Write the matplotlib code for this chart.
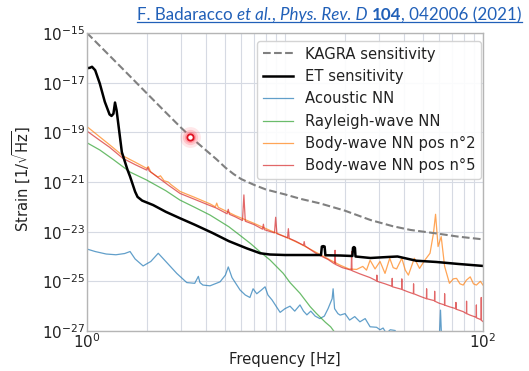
import numpy as np
import matplotlib.pyplot as plt
from matplotlib.lines import Line2D
from matplotlib.ticker import NullFormatter, NullLocator

plt.rcParams['font.family'] = 'DejaVu Sans'
plt.rcParams['mathtext.fontset'] = 'dejavusans'

# frequency [Hz] and log10 of strain [1/sqrt(Hz)]
kagra_f = [1, 1.5, 2, 2.5, 3, 3.5, 4, 4.5, 5, 5.5, 6, 7, 8, 10, 12, 15, 20, 27, 35, 43, 58, 75, 100]
kagra_logh = [-15.0, -16.41, -17.42, -18.2, -18.83, -19.33, -19.73, -20.08, -20.42, -20.68, -20.88,
              -21.12, -21.3, -21.5, -21.68, -21.86, -22.15, -22.53, -22.78, -22.93, -23.07, -23.2, -23.31]

et_f = [1.0, 1.035, 1.06, 1.1, 1.16, 1.23, 1.3, 1.33, 1.36, 1.385, 1.41, 1.5, 1.6, 1.65, 1.75, 1.8,
        1.9, 2.16, 2.5, 2.95, 3.5, 4.3, 5.2, 6.4, 7.5, 8.4, 10, 12, 15.2, 15.35, 15.6, 15.85, 16.0,
        19, 21.9, 22.05, 22.3, 22.55, 22.7, 27, 33, 37, 46, 58, 75, 100]
et_logh = [-16.42, -16.40, -16.36, -16.5, -17.03, -17.77, -18.28, -18.34, -18.25, -17.8, -18.1,
           -19.8, -20.5, -20.78, -21.39, -21.6, -21.75, -21.93, -22.2, -22.46, -22.72, -23.05,
           -23.38, -23.67, -23.87, -23.92, -23.94, -23.94, -23.94, -23.6, -23.58, -23.6, -23.95,
           -23.96, -23.98, -23.65, -23.62, -23.65, -24.0, -24.06, -24.02, -24.0, -24.17, -24.22,
           -24.3, -24.38]

acoustic_f = [1.0, 1.1, 1.25, 1.4, 1.55, 1.65, 1.75, 1.92, 2.1, 2.29, 2.5, 2.84, 3.19, 3.5, 3.65,
              3.72, 3.85, 4.18, 4.7, 5.0, 5.17, 5.4, 5.93, 6.3, 6.65, 6.9, 7.2, 7.6, 7.93, 8.2,
              8.6, 9.45, 10.0, 10.6, 11.2, 11.9, 12.4, 12.9, 13.5, 14.2, 15.0, 15.8, 16.5, 17.3,
              17.5, 17.8, 18.5, 19.0, 20.1, 21.2, 22.5, 23.9, 25.4, 26.9, 29.0, 30.2, 31.3, 32.5,
              34.0, 36.0, 37.0, 40.0, 60.0, 61.0, 62.0, 100.0]
acoustic_logh = [-23.7, -23.8, -23.9, -23.93, -23.88, -23.8, -24.1, -24.38, -24.2, -23.87, -24.2,
                 -24.68, -25.05, -25.08, -24.8, -25.05, -25.15, -25.18, -25.02, -24.75, -24.42,
                 -24.85, -25.35, -25.55, -25.65, -25.3, -25.5, -25.35, -25.22, -25.55, -25.75,
                 -26.25, -26.1, -26.0, -26.2, -25.95, -26.2, -26.35, -26.2, -26.4, -26.5, -26.4,
                 -26.1, -25.7, -25.3, -26.1, -26.3, -26.36, -26.3, -26.56, -26.42, -26.63, -26.5,
                 -26.83, -26.85, -26.95, -26.88, -27.1, -26.95, -26.98, -27.4, -27.6, -27.6,
                 -26.16, -27.6, -27.8]

rayleigh_f = [1.0, 1.16, 1.36, 1.65, 2.0, 2.5, 2.95, 3.5, 4.18, 5.2, 5.93, 6.7, 7.5, 8.4, 9.8,
              10.6, 11.9, 13.4, 14.4, 16.0, 17.0, 18.0]
rayleigh_logh = [-19.42, -19.71, -20.1, -20.6, -20.92, -21.35, -21.73, -22.02, -22.33, -22.8,
                 -23.15, -23.48, -23.82, -24.14, -24.68, -25.05, -25.48, -26.02, -26.29, -26.65,
                 -26.83, -27.1]

body2_f = [1.0, 1.3, 1.52, 1.75, 2.0, 2.04, 2.1, 2.28, 2.35, 2.45, 2.57, 2.65, 2.95, 3.5, 4.18,
           4.45, 4.52, 4.6, 5.6, 7.0, 8.4, 10, 12, 14.5, 17, 19, 21, 23, 24.7, 25.8, 26.9, 28.5,
           30.2, 32, 33.8, 35.2, 36.6, 38.9, 40.5, 42, 45, 47.8, 50.9, 54, 56.2, 57.6, 59.3, 61.5,
           64, 67.7, 70.8, 73.5, 76.5, 79.4, 82.5, 86.2, 89.5, 92.6, 97, 100]
body2_logh = [-18.77, -19.5, -19.95, -20.2, -20.45, -20.38, -20.6, -20.8, -20.75, -20.95, -21.0,
              -21.1, -21.38, -21.62, -21.88, -22.0, -21.85, -22.02, -22.35, -22.67, -22.95,
              -23.2, -23.5, -23.85, -24.15, -24.35, -24.5, -24.52, -24.4, -24.55, -24.15, -24.5,
              -24.2, -24.68, -24.07, -24.45, -24.5, -24.07, -24.55, -24.75, -24.07, -24.48,
              -24.14, -23.87, -23.07, -22.3, -23.6, -23.2, -24.4, -25.08, -24.9, -24.88, -25.1,
              -25.15, -24.95, -24.82, -25.1, -25.15, -25.0, -25.15]

body5_f = [1.0, 1.15, 1.3, 1.52, 1.75, 2.0, 2.03, 2.06, 2.34, 2.6, 2.95, 3.5, 4.18, 4.5, 5.1,
           5.17, 5.24, 5.6, 6.1, 6.2, 6.3, 7.0, 7.7, 7.78, 7.86, 8.85, 8.97, 9.1, 10.3, 10.4,
           10.5, 11.3, 12.4, 12.5, 12.6, 14.5, 16.5, 17.8, 17.9, 18.0, 19.5, 21.6, 21.7, 21.8,
           23.9, 26.9, 29.0, 29.1, 29.2, 32, 34.7, 34.8, 34.9, 38.8, 38.9, 39.0, 42, 44.5, 44.6,
           44.7, 48, 51.8, 51.9, 52.0, 56.9, 57.0, 57.1, 60, 63.9, 64.0, 64.1, 68, 72.9, 73.0,
           73.1, 79.4, 82.5, 82.6, 82.7, 86, 92.5, 92.6, 92.7, 96, 97.9, 98.0, 98.1, 100]
body5_logh = [-18.95, -19.3, -19.6, -20.05, -20.3, -20.52, -20.42, -20.55, -20.88, -21.15,
              -21.46, -21.7, -21.95, -22.05, -22.28, -22.1, -22.3, -22.4, -22.55, -21.52,
              -22.58, -22.72, -22.9, -22.7, -22.92, -23.05, -22.42, -23.08, -23.25, -22.88,
              -23.27, -23.38, -23.55, -23.4, -23.57, -23.9, -24.12, -24.3, -23.75, -24.32,
              -24.45, -24.55, -23.8, -24.57, -24.7, -24.85, -24.98, -24.75, -25.0, -25.1, -25.2,
              -24.88, -25.22, -25.32, -24.9, -25.33, -25.43, -25.5, -25.1, -25.5, -25.6, -25.7,
              -25.3, -25.7, -25.78, -25.4, -25.8, -25.88, -25.95, -25.5, -25.96, -26.03, -26.1,
              -25.85, -26.12, -26.22, -26.3, -25.8, -26.3, -26.36, -26.45, -25.95, -26.47,
              -26.52, -26.55, -25.65, -26.57, -26.62]

ytick_exp = [-27, -25, -23, -21, -19, -17, -15]

fig = plt.figure(figsize=(5.29, 3.71), dpi=100)
ax = fig.add_axes([87 / 529, 40 / 371, 396 / 529, 298 / 371])

nl = dict(lw=0.9, alpha=0.7)
l_ac, = ax.loglog(acoustic_f, 10.0 ** np.array(acoustic_logh), color='tab:blue', label='Acoustic NN', **nl)
l_ra, = ax.loglog(rayleigh_f, 10.0 ** np.array(rayleigh_logh), color='tab:green', label='Rayleigh-wave NN', **nl)
l_b2, = ax.loglog(body2_f, 10.0 ** np.array(body2_logh), color='tab:orange', label='Body-wave NN pos n°2', **nl)
l_b5, = ax.loglog(body5_f, 10.0 ** np.array(body5_logh), color='tab:red', label='Body-wave NN pos n°5', **nl)
l_et, = ax.loglog(et_f, 10.0 ** np.array(et_logh), color='black', lw=1.8, label='ET sensitivity')
l_kg, = ax.loglog(kagra_f, 10.0 ** np.array(kagra_logh), color='gray', lw=1.5, ls='--', label='KAGRA sensitivity')

ax.set_xlim(1, 100)
ax.set_ylim(1e-27, 1e-15)
ax.set_xticks([1, 100])
ax.set_xticks([2, 3, 4, 5, 6, 7, 8, 9, 10, 20, 30, 40, 50, 60, 70, 80, 90], minor=True)
ax.xaxis.set_minor_formatter(NullFormatter())
ax.set_yticks([10.0 ** e for e in ytick_exp])
ax.yaxis.set_minor_locator(NullLocator())
ax.grid(which='both', color='#d6dae3', lw=0.8)
ax.set_axisbelow(True)
ax.tick_params(which='both', length=0, labelsize=11, colors='#222222')
ax.tick_params(axis='x', pad=1)
ax.tick_params(axis='y', pad=1.5)
for s in ax.spines.values():
    s.set_color('#b5b5b5')
    s.set_linewidth(1.0)

ax.set_xlabel('Frequency [Hz]', fontsize=10.6, color='#222222')
ax.xaxis.set_label_coords(0.5, -0.072)
ax.set_ylabel(r'Strain [$1/\sqrt{\mathrm{Hz}}$]', fontsize=10.6, color='#222222')
ax.yaxis.set_label_coords(-0.136, 0.51)

leg = ax.legend(handles=[l_kg, l_et, l_ac, l_ra, l_b2, l_b5], loc='upper right',
                bbox_to_anchor=(0.995, 0.974), borderaxespad=0, fontsize=10.6,
                edgecolor='#d0d0d0', framealpha=0.9)
for t in leg.get_texts():
    t.set_color('#222222')

# citation line at the top of the slide
segs = [('F. Badaracco ', 'normal', 'normal'), ('et al.', 'italic', 'normal'),
        (', ', 'normal', 'normal'), ('Phys. Rev. D ', 'italic', 'normal'),
        ('104', 'normal', 'bold'), (', 042006 (2021)', 'normal', 'normal')]
cite_col = '#2160b8'
cite_left, cite_right = 136.0, 521.7
r = fig.canvas.get_renderer()


def seg_width(s, st, wt, size):
    # width with bars on both sides, so that edge spaces count
    a = fig.text(0, 0, '|' + s + '|', fontsize=size, family='Lato', style=st, weight=wt)
    b = fig.text(0, 0, '||', fontsize=size, family='Lato', style=st, weight=wt)
    w = a.get_window_extent(r).width - b.get_window_extent(r).width
    a.remove()
    b.remove()
    return w


fs = 11.0
total = sum(seg_width(s, st, wt, fs) for s, st, wt in segs)
fs = fs * (cite_right - cite_left) / total
widths = [seg_width(s, st, wt, fs) for s, st, wt in segs]
x = cite_right - sum(widths)
x0 = x
for (s, st, wt), w in zip(segs, widths):
    fig.text(x / 529, 0.946, s, fontsize=fs, family='Lato', style=st, weight=wt,
             color=cite_col, va='baseline', ha='left')
    x += w
fig.add_artist(Line2D([x0 / 529, cite_right / 529], [0.9415, 0.9415], color=cite_col, lw=0.9,
                      transform=fig.transFigure))

# laser pointer dot
for ms, a in [(15, 0.12), (11, 0.2), (8, 0.3)]:
    fig.add_artist(Line2D([190 / 529], [1 - 137 / 371], marker='o', ms=ms, mew=0, color='#ff4050',
                          alpha=a, transform=fig.transFigure))
fig.add_artist(Line2D([190 / 529], [1 - 137 / 371], marker='o', ms=4.5, mfc='white', mec='#e01020',
                      mew=1.3, transform=fig.transFigure))

fig.savefig('out.png', dpi=100)
